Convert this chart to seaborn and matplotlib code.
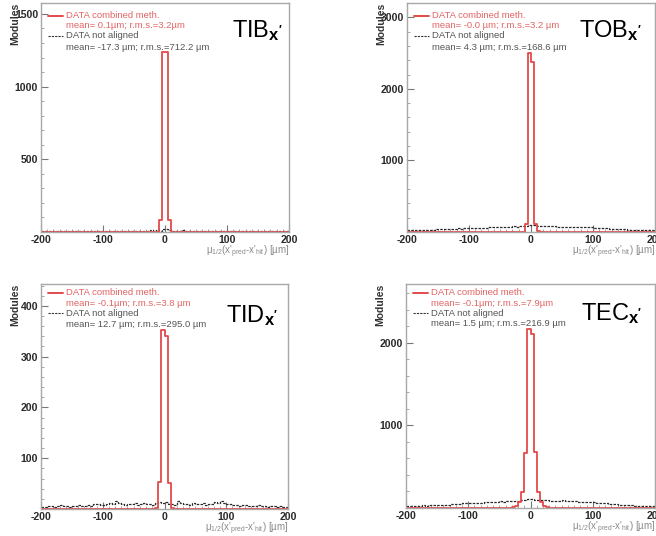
import numpy as np
import pandas as pd
import matplotlib
matplotlib.use("Agg")
import matplotlib.pyplot as plt
import seaborn as sns
from matplotlib.lines import Line2D
from matplotlib.ticker import MultipleLocator

# ---------------- data ----------------
x_range = (-200, 200)
bin_width = 5
bin_centers = np.arange(-197.5, 200, 5.0)   # 80 bins of 5 um

def sparse(d):
    v = [0] * 80
    for k, val in d.items():
        v[k] = val
    return v

# combined-method (red) histograms: only central bins populated
tib_red = sparse({36: 2, 37: 3, 38: 80, 39: 1235, 40: 1235, 41: 82, 42: 3, 43: 1})
tob_red = sparse({36: 2, 37: 6, 38: 110, 39: 2500, 40: 2370, 41: 115, 42: 20, 43: 4})
tid_red = sparse({37: 1, 38: 54, 39: 352, 40: 340, 41: 51, 42: 1})
tec_red = sparse({33: 5, 34: 12, 35: 30, 36: 78, 37: 193, 38: 670, 39: 2160,
                  40: 2100, 41: 680, 42: 193, 43: 70, 44: 25, 45: 10, 46: 4})

# not-aligned (black dashed) histograms
tib_black = [4, 6, 5, 8, 5, 7, 6, 9, 5, 7, 6, 8, 7, 5, 9, 6, 8, 7, 10, 6,
             8, 7, 9, 6, 8, 10, 7, 9, 8, 6, 9, 7, 10, 8, 9, 11, 8, 12, 10, 18,
             22, 12, 9, 10, 8, 11, 9, 7, 10, 8, 9, 7, 8, 10, 7, 9, 6, 8, 10, 7,
             8, 6, 9, 7, 8, 6, 7, 9, 6, 8, 5, 7, 6, 8, 5, 7, 6, 5, 7, 4]
tob_black = [22, 25, 24, 28, 26, 30, 29, 33, 31, 35, 38, 40, 42, 45, 44, 48, 50, 47, 52, 55,
             54, 58, 56, 60, 62, 59, 64, 66, 63, 68, 70, 72, 69, 75, 78, 74, 80, 82, 90, 98,
             100, 95, 88, 84, 80, 82, 78, 80, 76, 74, 76, 74, 72, 70, 70, 68, 67, 66, 65, 64,
             62, 60, 57, 55, 52, 48, 45, 42, 40, 38, 36, 34, 32, 30, 29, 27, 26, 25, 24, 22]
tid_black = [4, 3, 5, 6, 4, 5, 7, 6, 5, 4, 6, 5, 7, 6, 5, 8, 6, 9, 10, 8,
             7, 9, 12, 10, 15, 11, 9, 8, 10, 9, 11, 8, 10, 12, 9, 10, 8, 11, 13, 12,
             14, 10, 9, 8, 15, 12, 10, 9, 8, 11, 10, 9, 12, 8, 10, 9, 13, 11, 15, 12,
             10, 9, 8, 7, 6, 8, 7, 6, 5, 6, 7, 5, 6, 4, 5, 6, 4, 5, 3, 4]
tec_black = [26, 28, 27, 30, 29, 31, 30, 33, 35, 34, 36, 38, 40, 42, 45, 44, 48, 52, 55, 58,
             60, 58, 62, 65, 63, 68, 70, 72, 75, 78, 80, 78, 82, 85, 88, 84, 90, 95, 100, 105,
             108, 102, 98, 95, 92, 94, 90, 88, 86, 84, 92, 88, 85, 82, 80, 78, 76, 74, 72, 70,
             68, 65, 62, 58, 55, 52, 48, 45, 42, 40, 38, 35, 33, 30, 28, 26, 25, 23, 22, 20]

names = ["TIB", "TOB", "TID", "TEC"]
red_series = [tib_red, tob_red, tid_red, tec_red]
black_series = [tib_black, tob_black, tid_black, tec_black]
red_stats = ["mean= 0.1\u00b5m; r.m.s.=3.2\u00b5m",
             "mean= -0.0 \u00b5m; r.m.s.=3.2 \u00b5m",
             "mean= -0.1\u00b5m; r.m.s.=3.8 \u00b5m",
             "mean= -0.1\u00b5m; r.m.s.=7.9\u00b5m"]
black_stats = ["mean= -17.3 \u00b5m; r.m.s.=712.2 \u00b5m",
               "mean= 4.3 \u00b5m; r.m.s.=168.6 \u00b5m",
               "mean= 12.7 \u00b5m; r.m.s.=295.0 \u00b5m",
               "mean= 1.5 \u00b5m; r.m.s.=216.9 \u00b5m"]
red_label = "DATA combined meth."
black_label = "DATA not aligned"
x_ticks = [-200, -100, 0, 100, 200]
y_ticks = [[500, 1000, 1500], [1000, 2000, 3000], [100, 200, 300, 400], [1000, 2000]]

# ---------------- style ----------------
sns.set_theme(style="white")
plt.rcParams['font.family'] = ['Liberation Sans', 'DejaVu Sans']
plt.rcParams['mathtext.fontset'] = 'custom'
plt.rcParams['mathtext.rm'] = 'Liberation Sans'
plt.rcParams['mathtext.it'] = 'Liberation Sans'
plt.rcParams['mathtext.bf'] = 'Liberation Sans:bold'

RED = "#e34a4a"
RED_TXT = "#e36464"
GRAY_TXT = "#555555"
FRAME = "#a8a8a8"

W, H = 656, 536
fig = plt.figure(figsize=(W / 100, H / 100), dpi=100)

layout = {
    "TIB": dict(rect=(41, 3, 248, 229), ylim=1575, yminor=100, title_x=0.976, title_y=0.853,
                txt_y=[0.945, 0.900, 0.857, 0.805]),
    "TOB": dict(rect=(407, 3, 248, 229), ylim=3200, yminor=200, title_x=0.948, title_y=0.853,
                txt_y=[0.945, 0.900, 0.857, 0.805]),
    "TID": dict(rect=(41, 284, 247, 225), ylim=443, yminor=20, title_x=0.960, title_y=0.832,
                txt_y=[0.962, 0.915, 0.870, 0.822]),
    "TEC": dict(rect=(406, 284, 249, 224), ylim=2710, yminor=200, title_x=0.948, title_y=0.840,
                txt_y=[0.962, 0.915, 0.870, 0.822]),
}

xlabel = "$\\mu_{1/2}$(x'$_{pred}$-x'$_{hit}$) [\u00b5m]"

for i, name in enumerate(names):
    L = layout[name]
    x0, y0, w, h = L["rect"]
    ax = fig.add_axes([x0 / W, 1 - (y0 + h) / H, w / W, h / H])

    dfb = pd.DataFrame({"x": bin_centers, "w": black_series[i]})
    dfr = pd.DataFrame({"x": bin_centers, "w": red_series[i]})
    sns.histplot(data=dfb, x="x", weights="w", binwidth=bin_width, binrange=x_range,
                 element="step", fill=False, color="#2a2a2a", linewidth=0.9,
                 linestyle=(0, (2, 1)), ax=ax)
    sns.histplot(data=dfr, x="x", weights="w", binwidth=bin_width, binrange=x_range,
                 element="step", fill=False, color=RED, linewidth=1.3, ax=ax)

    ax.set_xlim(-200, 200)
    ax.set_ylim(0, L["ylim"])
    ax.set_xticks(x_ticks)
    ax.set_xticklabels([str(t) for t in x_ticks])
    ax.set_yticks(y_ticks[i])
    ax.set_yticklabels([str(t) for t in y_ticks[i]])
    ax.xaxis.set_minor_locator(MultipleLocator(10))
    ax.yaxis.set_minor_locator(MultipleLocator(L["yminor"]))
    ax.tick_params(axis="both", which="major", direction="in", length=5, width=0.8,
                   color="#777777", labelsize=7.6, labelcolor="#2a2a2a", pad=2,
                   bottom=True, left=True, top=False, right=False)
    ax.tick_params(axis="both", which="minor", direction="in", length=2.5, width=0.6,
                   color="#999999", bottom=True, left=True, top=False, right=False)
    for lab in ax.get_xticklabels() + ax.get_yticklabels():
        lab.set_fontweight("bold")
    for sp in ax.spines.values():
        sp.set_visible(True)
        sp.set_color(FRAME)
        sp.set_linewidth(1.0)

    ax.set_ylabel("Modules", fontsize=7.5, fontweight="bold", color="#333333")
    ax.yaxis.set_label_coords(-0.085, 1.0)
    ax.yaxis.label.set_horizontalalignment("right")
    ax.set_xlabel(xlabel, fontsize=7, color="#8a8a8a")
    ax.xaxis.set_label_coords(1.0, -0.05)
    ax.xaxis.label.set_horizontalalignment("right")

    # title
    ax.text(L["title_x"], L["title_y"], name + r"$_{\mathbf{x'}}$", transform=ax.transAxes,
            ha="right", va="baseline", fontsize=17, color="black")

    # legend drawn by hand
    ty = L["txt_y"]
    ax.add_line(Line2D([0.028, 0.088], [ty[0], ty[0]], transform=ax.transAxes,
                       color=RED, linewidth=1.4))
    ax.add_line(Line2D([0.028, 0.088], [ty[2], ty[2]], transform=ax.transAxes,
                       color="#333333", linewidth=0.8, linestyle=(0, (2, 1))))
    ax.text(0.10, ty[0], red_label, transform=ax.transAxes, ha="left", va="center",
            fontsize=6.8, color=RED_TXT)
    ax.text(0.10, ty[1], red_stats[i], transform=ax.transAxes, ha="left", va="center",
            fontsize=6.8, color=RED_TXT)
    ax.text(0.10, ty[2], black_label, transform=ax.transAxes, ha="left", va="center",
            fontsize=6.8, color=GRAY_TXT)
    ax.text(0.10, ty[3], black_stats[i], transform=ax.transAxes, ha="left", va="center",
            fontsize=6.8, color=GRAY_TXT)

fig.savefig("out.png", dpi=100)
